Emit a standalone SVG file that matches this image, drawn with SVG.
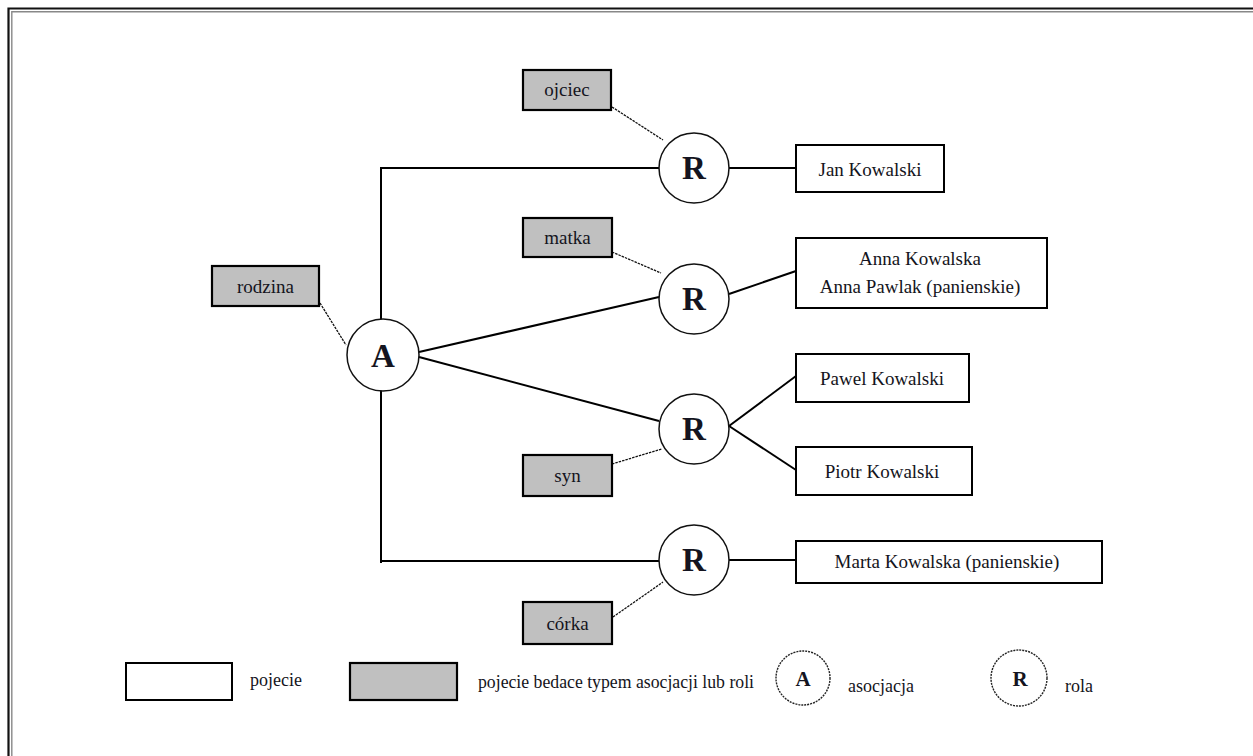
<svg xmlns="http://www.w3.org/2000/svg" width="1253" height="756" viewBox="0 0 1253 756">
<style>
.t{font-family:"Liberation Serif","Times New Roman",serif;fill:#141420;text-anchor:middle}
.n{font-size:19px}
.lg{font-size:18px;text-anchor:start}
.big{font-size:33px;font-weight:bold}
.sm{font-size:21px;font-weight:bold}
.box{fill:#fff;stroke:#000;stroke-width:2}
.gbox{fill:#c0c0c0;stroke:#000;stroke-width:2.2}
.circ{fill:#fff;stroke:#111;stroke-width:1.5}
.dcirc{fill:#fff;stroke:#222;stroke-width:1.4;stroke-dasharray:2 1}
.s{stroke:#000;stroke-width:2;fill:none}
.d{stroke:#111;stroke-width:1.3;stroke-dasharray:2.5 1;fill:none}
</style>
<rect width="1253" height="756" fill="#fff"/>
<g id="frame">
<path d="M8.5,760 V8.5 H1260" fill="none" stroke="#111" stroke-width="2.2"/>
<path d="M11.8,760 V11.8 H1260" fill="none" stroke="#888" stroke-width="1.4"/>
</g>
<g id="connectors">
<path class="s" d="M381,563 V168 H659"/>
<line class="s" x1="729" y1="168" x2="796" y2="168"/>
<line class="s" x1="381" y1="561" x2="659" y2="561"/>
<line class="s" x1="729" y1="560" x2="796" y2="560"/>
<line class="s" stroke-width="1.7" x1="419" y1="352" x2="659" y2="297"/>
<line class="s" stroke-width="1.7" x1="729" y1="294" x2="796" y2="271"/>
<line class="s" stroke-width="1.7" x1="419" y1="357" x2="659" y2="421"/>
<line class="s" stroke-width="1.7" x1="729" y1="426" x2="796" y2="376"/>
<line class="s" stroke-width="1.7" x1="729" y1="426" x2="796" y2="470"/>
<line class="d" x1="612" y1="107" x2="663" y2="140"/>
<line class="d" x1="612" y1="252" x2="661" y2="273"/>
<line class="d" x1="320" y1="303" x2="346" y2="345"/>
<line class="d" x1="612" y1="464" x2="662" y2="449"/>
<line class="d" x1="613" y1="617" x2="663" y2="582"/>
</g>
<g id="rodzina"><rect class="gbox" x="212" y="266" width="107" height="40"/><text class="t n" x="265.5" y="293">rodzina</text></g>
<g id="ojciec"><rect class="gbox" x="523" y="70" width="88" height="40"/><text class="t n" x="567" y="96">ojciec</text></g>
<g id="matka"><rect class="gbox" x="523" y="218" width="89" height="39"/><text class="t n" x="567.5" y="244">matka</text></g>
<g id="syn"><rect class="gbox" x="523" y="455" width="89" height="41"/><text class="t n" x="567.5" y="482">syn</text></g>
<g id="corka"><rect class="gbox" x="523" y="602" width="89" height="42"/><text class="t n" x="567.5" y="630">córka</text></g>
<g id="A"><circle class="circ" cx="383" cy="355" r="36"/><text class="t big" x="383" y="367">A</text></g>
<g id="R1"><circle class="circ" cx="694" cy="168" r="35"/><text class="t big" x="694" y="179">R</text></g>
<g id="R2"><circle class="circ" cx="694" cy="299" r="35"/><text class="t big" x="694" y="310">R</text></g>
<g id="R3"><circle class="circ" cx="694" cy="429" r="35"/><text class="t big" x="694" y="440">R</text></g>
<g id="R4"><circle class="circ" cx="694" cy="560" r="35"/><text class="t big" x="694" y="571">R</text></g>
<g id="jan"><rect class="box" x="796" y="145" width="148" height="47"/><text class="t n" x="870" y="176">Jan Kowalski</text></g>
<g id="anna"><rect class="box" x="796" y="238" width="251" height="70"/><text class="t n" x="920" y="265">Anna Kowalska</text><text class="t n" x="920" y="293">Anna Pawlak (panienskie)</text></g>
<g id="pawel"><rect class="box" x="796" y="354" width="173" height="48"/><text class="t n" x="882" y="385">Pawel Kowalski</text></g>
<g id="piotr"><rect class="box" x="796" y="447" width="176" height="48"/><text class="t n" x="882" y="478">Piotr Kowalski</text></g>
<g id="marta"><rect class="box" x="796" y="541" width="306" height="42"/><text class="t n" x="947" y="568">Marta Kowalska (panienskie)</text></g>
<g id="legend">
<rect class="box" x="126" y="663" width="106" height="37"/>
<text class="t lg" x="250" y="686">pojecie</text>
<rect class="gbox" x="350" y="663" width="107" height="37"/>
<text class="t lg" x="478" y="688" textLength="276" lengthAdjust="spacingAndGlyphs">pojecie bedace typem asocjacji lub roli</text>
<circle class="dcirc" cx="803" cy="678" r="27"/>
<text class="t sm" x="803" y="686">A</text>
<text class="t lg" x="848" y="692">asocjacja</text>
<circle class="dcirc" cx="1019" cy="678" r="28"/>
<text class="t sm" x="1020" y="686">R</text>
<text class="t lg" x="1065" y="692">rola</text>
</g>
</svg>
